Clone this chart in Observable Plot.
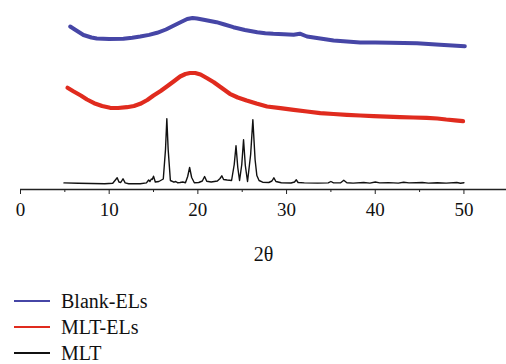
<!DOCTYPE html>
<html>
<head>
<meta charset="utf-8">
<script src="https://cdn.jsdelivr.net/npm/d3@7"></script>
<script src="https://cdn.jsdelivr.net/npm/@observablehq/plot@0.6"></script>
<style>
  body { margin: 0; background: #fff; font-family: "Liberation Serif", "DejaVu Serif", serif; }
  #chart svg { display: block; }
  .legend { position: absolute; left: 14px; top: 288px; font-size: 20px; color: #111; }
  .legend .item { display: flex; align-items: center; height: 26px; line-height: 26px; }
  .legend .swatch { display: inline-block; width: 36px; height: 1.5px; margin-right: 11px; }
</style>
</head>
<body>
<div id="chart"></div>
<div class="legend" id="legend"></div>
<script>
// Series names and colours
const seriesNames = ["Blank-ELs", "MLT-ELs", "MLT"];
const seriesColors = ["#4646a6", "#e02b1e", "#111111"];

// X ticks
const majorTicks = [0, 10, 20, 30, 40, 50];
const minorTicks = [5, 15, 25, 35, 45];

// Blank-ELs (offset intensity, a.u.)
const blankX = [5.6, 6.3, 7.1, 8.0, 8.6, 10.0, 11.6, 12.6, 13.5, 14.5, 15.4, 16.4, 17.3, 18.1, 18.8, 19.4, 19.9, 20.8, 22.1, 23.0, 24.0, 25.3, 26.7, 27.6, 28.5, 29.7, 30.8, 31.5, 32.3, 33.8, 35.3, 36.8, 38.3, 40.0, 41.7, 43.2, 44.7, 46.0, 47.3, 48.7, 50.1];
const blankY = [163, 159, 154.5, 152, 151, 150.5, 150.8, 151.8, 153, 154.6, 156.7, 160, 164, 167.5, 170.5, 171.5, 171, 169.5, 167.3, 165, 162.3, 159.5, 157.3, 156.3, 155.7, 155.2, 154.7, 155.8, 153, 151, 149, 148, 147, 147, 146.8, 146.5, 146.3, 145.5, 144.7, 144, 143.3];

// MLT-ELs
const mltElsX = [5.3, 6.0, 6.8, 7.5, 8.3, 9.2, 10.1, 11.0, 12.0, 12.8, 13.5, 14.3, 15.0, 15.8, 16.5, 17.3, 18.0, 18.6, 19.1, 19.7, 20.3, 21.0, 21.8, 22.7, 23.6, 24.5, 25.5, 26.6, 27.8, 29.3, 30.8, 32.3, 33.8, 35.3, 36.8, 38.3, 39.8, 41.3, 42.8, 44.3, 45.8, 47.0, 48.0, 49.0, 49.9];
const mltElsY = [101.7, 98, 94, 90, 86.3, 83.5, 81.7, 81.5, 82.3, 83.5, 85.7, 89.5, 94, 98.5, 103, 108.3, 113, 115.5, 116.5, 116.5, 115, 111.5, 107.3, 101.5, 95.7, 92, 89, 86, 83, 81.3, 79.7, 78, 76.3, 75.5, 74.7, 74, 73.3, 72.8, 72.3, 72, 71.7, 71, 70, 69.2, 68.3];

// MLT (crystalline drug)
const mltX = [4.9, 6.5, 8.0, 9.5, 10.4, 10.7, 10.9, 11.1, 11.3, 11.56, 11.8, 12.2, 13.5, 14.2, 14.45, 14.6, 14.75, 14.85, 15.0, 15.2, 15.6, 16.1, 16.35, 16.5, 16.65, 16.9, 17.3, 17.5, 17.7, 18.0, 18.3, 18.6, 18.85, 19.07, 19.3, 19.6, 20.1, 20.5, 20.76, 21.0, 21.5, 22.2, 22.5, 22.7, 22.9, 23.3, 23.8, 24.1, 24.3, 24.5, 24.7, 24.95, 25.15, 25.35, 25.6, 25.95, 26.2, 26.45, 26.65, 26.9, 27.3, 28.0, 28.35, 28.57, 28.8, 29.4, 30.5, 30.9, 31.1, 31.3, 32.0, 33.5, 34.7, 35.0, 35.3, 36.1, 36.45, 36.8, 37.5, 38.7, 39.4, 40.0, 40.5, 41.5, 42.6, 43.2, 43.8, 44.6, 45.3, 46.0, 47.0, 48.0, 49.2, 49.6, 50.0];
const mltY = [6.6, 6.3, 6.0, 5.8, 6.2, 9.5, 11.7, 7.5, 7.0, 10.7, 6.6, 5.8, 5.8, 6.6, 9.5, 8.0, 10.5, 10.0, 13.3, 7.5, 8.0, 10.5, 40.0, 70.7, 40.0, 9.0, 7.3, 8.0, 6.8, 7.0, 7.5, 6.8, 13.0, 22.0, 12.0, 6.8, 7.0, 8.5, 13.0, 8.2, 7.5, 8.5, 11.0, 13.7, 10.0, 9.5, 9.0, 25.0, 43.7, 22.0, 9.0, 25.0, 49.7, 24.0, 8.0, 35.0, 69.7, 30.0, 14.0, 9.0, 7.3, 7.0, 8.5, 11.7, 8.0, 6.8, 6.5, 7.5, 9.7, 7.0, 6.6, 6.4, 6.6, 8.0, 6.6, 6.8, 9.3, 6.8, 6.4, 7.0, 6.4, 7.5, 6.6, 6.9, 6.4, 7.2, 6.6, 6.8, 7.0, 6.4, 6.8, 6.4, 7.0, 6.3, 6.8];

const blank = blankX.map((x, i) => ({x, y: blankY[i], s: seriesNames[0]}));
const mltEls = mltElsX.map((x, i) => ({x, y: mltElsY[i], s: seriesNames[1]}));
const mlt = mltX.map((x, i) => ({x, y: mltY[i], s: seriesNames[2]}));

const plot = Plot.plot({
  width: 506,
  height: 272,
  marginLeft: 20,
  marginRight: 0,
  marginTop: 0,
  marginBottom: 83,
  style: {fontFamily: "'Liberation Serif', 'DejaVu Serif', serif", fontSize: "19px", color: "#111", background: "#fff"},
  x: {domain: [0, 54.8], label: null},
  y: {domain: [0, 189], axis: null},
  marks: [
    Plot.line(blank, {x: "x", y: "y", stroke: seriesColors[0], strokeWidth: 4, strokeLinejoin: "round", strokeLinecap: "round"}),
    Plot.line(mltEls, {x: "x", y: "y", stroke: seriesColors[1], strokeWidth: 4.2, strokeLinejoin: "round", strokeLinecap: "round"}),
    Plot.line(mlt, {x: "x", y: "y", stroke: seriesColors[2], strokeWidth: 1.4, strokeLinejoin: "round"}),
    Plot.ruleY([0], {stroke: "#222", strokeWidth: 1.3}),
    Plot.axisX(minorTicks, {tickSize: 3, tickFormat: () => "", stroke: "#222", label: null}),
    Plot.axisX(majorTicks, {tickSize: 5, tickPadding: 8, stroke: "#222", fontSize: 19, label: null}),
    Plot.text(["2θ"], {frameAnchor: "bottom", dy: 71, fontSize: 20, fill: "#111"})
  ]
});
document.getElementById("chart").appendChild(plot);

const legend = document.getElementById("legend");
seriesNames.forEach((name, i) => {
  const item = document.createElement("div");
  item.className = "item";
  const sw = document.createElement("span");
  sw.className = "swatch";
  sw.style.backgroundColor = seriesColors[i];
  const label = document.createElement("span");
  label.textContent = name;
  item.appendChild(sw);
  item.appendChild(label);
  legend.appendChild(item);
});
</script>
</body>
</html>
